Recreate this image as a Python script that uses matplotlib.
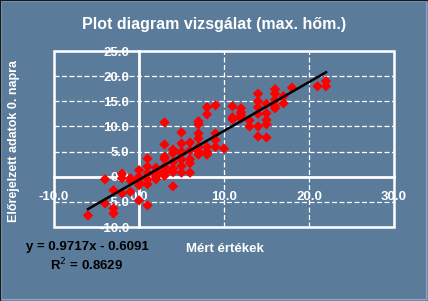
import numpy as np
import matplotlib
matplotlib.use("Agg")
import matplotlib.pyplot as plt
from matplotlib.patches import Rectangle

# ---- data ----
x_meas = [-6,
          -4, -4,
          -3, -3, -3,
          -2, -2, -2,
          -1, -1, -1,
          0, 0, 0, 0, 0, 0,
          1, 1, 1, 1, 1, 1,
          2, 2, 2, 2, 2,
          3, 3, 3, 3, 3, 3, 3, 3,
          4, 4, 4, 4, 4, 4,
          5, 5, 5, 5, 5, 5, 5,
          6, 6, 6, 6, 6,
          7, 7, 7, 7, 7, 7, 7,
          8, 8, 8, 8, 8,
          9, 9, 9, 9,
          10,
          11, 11, 11,
          12, 12, 12, 12,
          13, 13,
          14, 14, 14, 14, 14, 14,
          15, 15, 15, 15, 15,
          16, 16, 16, 16, 16,
          17, 17,
          18,
          21,
          22, 22]
y_pred = [-7.7,
          -0.5, -5.3,
          -2.7, -6.3, -7.3,
          0.6, -0.3, -3.3,
          -0.3, -0.8, -3.0,
          1.3, 0.0, -0.5, -1.1, -1.7, -4.7,
          3.6, 2.0, 0.7, -0.5, -1.5, -5.7,
          1.8, 1.0, 0.5, 0.0, -0.5,
          10.8, 6.4, 4.0, 3.5, 2.0, 1.2, 0.7, 0.2,
          5.4, 4.7, 2.9, 1.6, 0.9, -1.9,
          8.8, 6.6, 5.0, 4.6, 3.4, 2.1, 0.8,
          6.8, 5.2, 3.5, 2.7, 0.8,
          11.0, 10.4, 8.6, 7.6, 5.9, 5.0, 4.4,
          13.8, 12.4, 5.9, 4.9, 4.4,
          14.2, 8.6, 7.3, 5.9,
          5.6,
          14.0, 11.8, 11.4,
          13.6, 12.8, 12.2, 11.6,
          11.2, 10.0,
          16.5, 15.0, 13.8, 12.5, 10.0, 8.0,
          14.5, 12.6, 11.3, 10.4, 7.8,
          17.4, 16.5, 15.3, 14.0, 13.6,
          16.0, 14.6,
          17.7,
          18.0,
          19.0, 18.0]

slope = 0.9717
intercept = -0.6091
r2 = 0.8629

x_ticks = [-10, 0, 10, 20, 30]
y_ticks = [-10, -5, 0, 5, 10, 15, 20, 25]

title = "Plot diagram vizsgálat (max. hőm.)"
x_label = "Mért értékek"
y_label = "Előrejelzett adatok 0. napra"

# ---- styling ----
BG = "#5b7b9b"
W, H = 428, 301
plt.rcParams["font.family"] = ["Liberation Sans", "DejaVu Sans"]

fig = plt.figure(figsize=(W / 100, H / 100), dpi=100, facecolor=BG)
ax = fig.add_axes([54 / W, 1 - 227 / H, (394 - 54) / W, (227 - 51) / H])
ax.set_facecolor(BG)

ax.set_xlim(-10, 30)
ax.set_ylim(-10, 25)
ax.set_xticks(x_ticks)
ax.set_yticks(y_ticks)
ax.set_xticklabels([f"{v:.1f}" for v in x_ticks])
ax.set_yticklabels([f"{v:.1f}" for v in y_ticks])

ax.grid(True, color="white", linestyle=(0, (4, 2)), linewidth=0.9)
ax.set_axisbelow(True)

for s in ["top", "right"]:
    ax.spines[s].set_visible(False)
for s in ["left", "bottom"]:
    ax.spines[s].set_position(("data", 0))
    ax.spines[s].set_color("white")
    ax.spines[s].set_linewidth(2)
    ax.spines[s].set_zorder(2)

ax.add_patch(Rectangle((0, 0), 1, 1, transform=ax.transAxes, fill=False,
                       ec="white", lw=1.8, clip_on=False, zorder=2))

ax.tick_params(axis="both", length=0, colors="white", labelsize=9.5)
ax.tick_params(axis="y", pad=7)
ax.tick_params(axis="x", pad=10.5)
for lab in ax.get_xticklabels() + ax.get_yticklabels():
    lab.set_fontweight("bold")
    lab.set_zorder(5)

ax.scatter(x_meas, y_pred, marker="D", s=28, color="#ff0000",
           edgecolors="none", zorder=3, clip_on=False)

xl = np.array([min(x_meas), max(x_meas)])
ax.plot(xl, slope * xl + intercept, color="black", lw=1.8, zorder=4)

fig.text(214 / W, 1 - 25 / H, title, color="white", fontsize=11.5,
         fontweight="bold", ha="center", va="center")
fig.text(225 / W, 1 - 249 / H, x_label, color="white", fontsize=9.5,
         fontweight="bold", ha="center", va="center")
fig.text(14 / W, 1 - 141 / H, y_label, color="white", fontsize=9,
         fontweight="bold", ha="center", va="center", rotation=90)
fig.text(87 / W, 1 - 247 / H, f"y = {slope:.4f}x - {abs(intercept):.4f}",
         color="black", fontsize=9.5, fontweight="bold", ha="center", va="center")
fig.text(87 / W, 1 - 265 / H, f"R$^2$ = {r2:.4f}",
         color="black", fontsize=9.5, fontweight="bold", ha="center", va="center")

# frame border
fig.patches.append(Rectangle((0, 0), 1, 1, transform=fig.transFigure,
                             fill=False, ec="#8aa6c2", lw=3, zorder=10))
fig.patches.append(Rectangle((0, 0), 1, 1, transform=fig.transFigure,
                             fill=False, ec="#1a1a1a", lw=1, zorder=11))

fig.savefig("out.png", dpi=100, facecolor=BG)
